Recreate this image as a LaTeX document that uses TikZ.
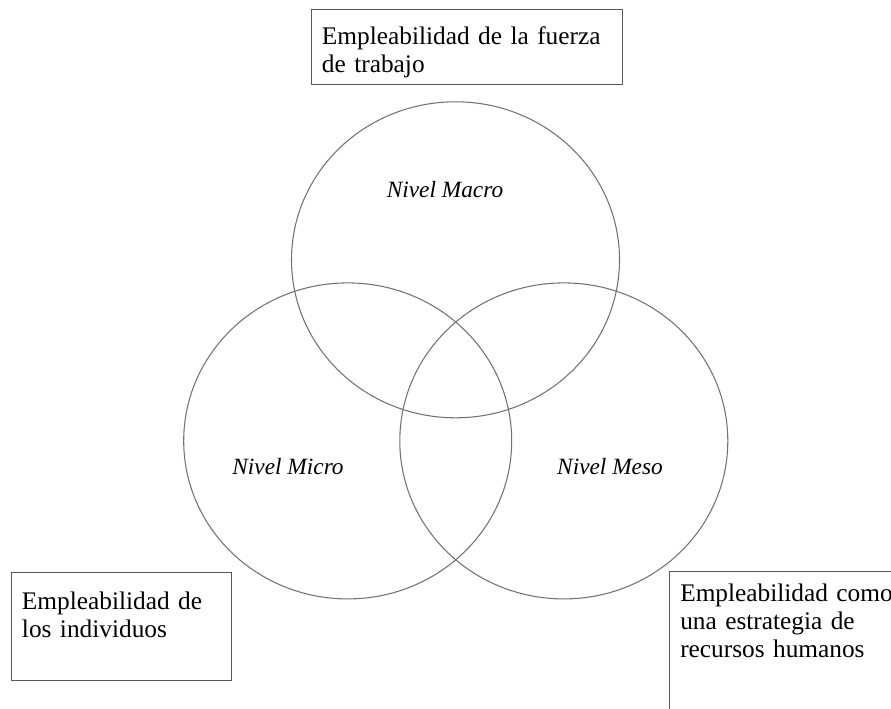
\documentclass[tikz,border=0pt]{standalone}
\usepackage{fontspec}
\setmainfont{Liberation Serif}
\usetikzlibrary{shapes.geometric}

\begin{document}
\begin{tikzpicture}[x=0.75pt, y=-0.75pt,
    nivel/.style={ellipse, draw=black!55, line width=0.8pt, minimum width=246pt, minimum height=237pt, inner sep=0pt},
    etiqueta/.style={font=\fontsize{17.5}{21}\selectfont\itshape},
    caja/.style={rectangle, draw=black!65, line width=0.8pt, anchor=north west, inner sep=0pt},
    texto/.style={anchor=base west, align=left, inner sep=0pt, text width=225pt, font=\fontsize{19}{21}\selectfont}
]

\clip (0,0) rectangle (891,708);

% Niveles
\node[nivel] (macro) at (455.5,259.8) {};
\node[nivel] (micro) at (347.7,440.9) {};
\node[nivel] (meso) at (563.8,440.9) {};

\node[etiqueta] (lmacro) at (445,190) {Nivel Macro};
\node[etiqueta] (lmicro) at (288,467) {Nivel Micro};
\node[etiqueta] (lmeso) at (610,467) {Nivel Meso};

% Cajas de texto
\node[caja, minimum width=233.5pt, minimum height=56.25pt] (cfuerza) at (311,9) {};
\node[texto] (tfuerza) at (321.7,44.3) {Empleabilidad de la fuerza\\de trabajo};

\node[caja, minimum width=165pt, minimum height=80.8pt] (cindiv) at (11,572.3) {};
\node[texto] (tindiv) at (21.7,609) {Empleabilidad de\\los individuos};

\node[caja, minimum width=225pt, minimum height=150pt] (crrhh) at (669.3,571) {};
\node[texto] (trrhh) at (680,601.5) {Empleabilidad como\\una estrategia de\\recursos humanos};

\end{tikzpicture}
\end{document}
